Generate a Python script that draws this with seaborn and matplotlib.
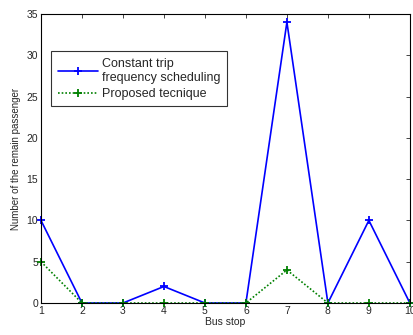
import pandas as pd
import matplotlib
matplotlib.use('Agg')
import matplotlib.pyplot as plt
import seaborn as sns

# data
bus_stops = [1, 2, 3, 4, 5, 6, 7, 8, 9, 10]
constant_trip = [10, 0, 0, 2, 0, 0, 34, 0, 10, 0]
proposed = [5, 0, 0, 0, 0, 0, 4, 0, 0, 0]
series_names = ['Constant trip\nfrequency scheduling', 'Proposed tecnique']
colors = ['#0000ff', '#008000']

sns.set_style('white')
plt.rcParams['font.family'] = ['Liberation Sans', 'DejaVu Sans']

df = pd.DataFrame({
    'stop': bus_stops * 2,
    'value': constant_trip + proposed,
    'series': [series_names[0]] * len(bus_stops) + [series_names[1]] * len(bus_stops),
})

fig = plt.figure(figsize=(4.14, 3.35), dpi=100)
ax = fig.add_axes([0.099, 0.0955, 0.891, 0.863])

sns.lineplot(data=df, x='stop', y='value', hue='series', style='series',
             palette=colors, dashes=[(None, None), (1, 1.2)],
             ax=ax, legend=True)
for line, c in zip(ax.lines, colors):
    line.set_linewidth(1.2)
    line.set_marker('+')
    line.set_markersize(6)
    line.set_markeredgewidth(1.3)
    line.set_markeredgecolor(c)
    line.set_clip_on(False)

ax.set_xlim(1, 10)
ax.set_ylim(0, 35)
ax.set_xticks(bus_stops)
ax.set_yticks(range(0, 36, 5))
ax.tick_params(direction='in', length=3, labelsize=7.5, top=True, right=True, pad=2, width=0.6)
for s in ax.spines.values():
    s.set_visible(True)
    s.set_color('black')
    s.set_linewidth(0.8)
ax.set_xlabel('Bus stop', fontsize=7.5, labelpad=1)
ax.set_ylabel('Number of the remain passenger', fontsize=7, labelpad=4)

handles, labels = ax.get_legend_handles_labels()
for h, c in zip(handles, colors):
    h.set_marker('+')
    h.set_linewidth(1.2)
    h.set_markeredgecolor(c)
    h.set_markeredgewidth(1.3)
leg = ax.legend(handles, labels, loc='upper left', bbox_to_anchor=(0.028, 0.87),
                fontsize=9, frameon=True, fancybox=False, edgecolor='black',
                handlelength=3.2, borderpad=0.5, labelspacing=0.35, handletextpad=0.35,
                borderaxespad=0)
leg.get_frame().set_linewidth(0.8)

fig.savefig('out.png', dpi=100)
